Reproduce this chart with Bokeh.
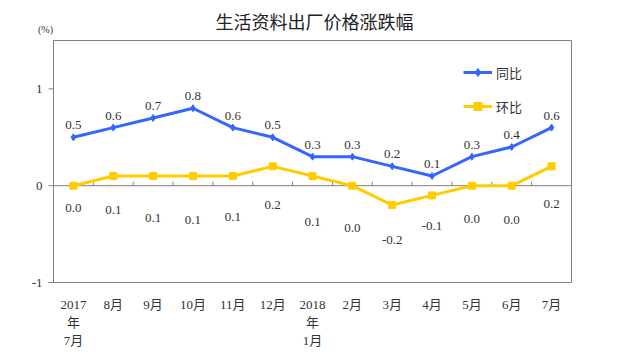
from bokeh.plotting import figure
from bokeh.models import Range1d, FixedTicker, Label, Legend, LegendItem, ColumnDataSource
from bokeh.core.properties import value
from bokeh.embed import file_html
from bokeh.resources import INLINE

categories = ["2017\n年\n7月", "8月", "9月", "10月", "11月", "12月", "2018\n年\n1月",
              "2月", "3月", "4月", "5月", "6月", "7月"]
tongbi = [0.5, 0.6, 0.7, 0.8, 0.6, 0.5, 0.3, 0.3, 0.2, 0.1, 0.3, 0.4, 0.6]
huanbi = [0.0, 0.1, 0.1, 0.1, 0.1, 0.2, 0.1, 0.0, -0.2, -0.1, 0.0, 0.0, 0.2]
huanbi_label_y = [-0.23, -0.25, -0.33, -0.35, -0.32, -0.20, -0.38, -0.44, -0.56, -0.42, -0.34, -0.35, -0.19]
y_ticks = [-1, 0, 1]
y_tick_labels = ["-1", "0", "1"]
y_min, y_max = -1, 1.5

BLUE = "#3366FF"
YELLOW = "#FFCC00"
GRAY = "#808080"
SERIF = "'Liberation Serif', 'Noto Sans CJK SC'"
CJK = "Noto Sans CJK SC"

W, H = 622, 355
# plot box in canvas pixels
BOX_L, BOX_R, BOX_T, BOX_B = 53, 571, 40, 282
n = len(categories)
xs = [i + 0.5 for i in range(n)]

ppx = (BOX_R - BOX_L) / n
ppy = (BOX_B - BOX_T) / (y_max - y_min)
frame_bottom = BOX_B + 8
x_range = Range1d(-BOX_L / ppx, n + (W - BOX_R) / ppx)
y_range = Range1d(y_min - (frame_bottom - BOX_B) / ppy, y_max + BOX_T / ppy)

p = figure(width=W, height=H, output_backend="svg", toolbar_location=None,
           x_range=x_range, y_range=y_range,
           min_border_left=0, min_border_right=0, min_border_top=0,
           min_border_bottom=H - frame_bottom)
p.background_fill_color = "white"
p.border_fill_color = "white"
p.outline_line_color = None
p.xgrid.visible = False
p.ygrid.visible = False
p.yaxis.visible = False

# x axis
p.xaxis.ticker = FixedTicker(ticks=xs)
p.xaxis.major_label_overrides = {x: c for x, c in zip(xs, categories)}
p.xaxis.major_tick_line_color = None
p.xaxis.minor_tick_line_color = None
p.xaxis.axis_line_color = None
p.xaxis.major_label_text_font = SERIF
p.xaxis.major_label_text_font_size = "13px"
p.xaxis.major_label_text_color = "#333333"
p.xaxis.major_label_standoff = 0
p.xaxis.major_label_text_line_height = 1.2

# plot box
p.quad(left=[0], right=[n], bottom=[y_min], top=[y_max], fill_color=None,
       line_color=GRAY, line_width=1)

# y ticks and labels
p.segment(x0=[-5 / ppx] * len(y_ticks), y0=y_ticks, x1=[0] * len(y_ticks), y1=y_ticks,
          line_color=GRAY, line_width=1)
p.text(x=[0] * len(y_ticks), y=y_ticks, text=y_tick_labels, x_offset=-11,
       text_align="right", text_baseline="middle", text_font=value(SERIF),
       text_font_size="13px", text_color="#333333")

# zero line with small ticks at category boundaries
p.segment(x0=[0], y0=[0], x1=[n], y1=[0], line_color=GRAY, line_width=1)
bounds = list(range(1, n))
p.segment(x0=bounds, y0=[0] * len(bounds), x1=bounds, y1=[4 / ppy] * len(bounds),
          line_color=GRAY, line_width=1)

# series
l1 = p.line(xs, tongbi, line_color=BLUE, line_width=3)
m1 = p.scatter(xs, tongbi, marker="diamond", size=7, color=BLUE)
l2 = p.line(xs, huanbi, line_color=YELLOW, line_width=3)
m2 = p.scatter(xs, huanbi, marker="square", size=7, color=YELLOW)

# data labels
src1 = ColumnDataSource(dict(x=xs, y=tongbi, t=["%.1f" % v for v in tongbi]))
p.text(x="x", y="y", text="t", source=src1, y_offset=-12, text_align="center",
       text_baseline="middle", text_font=value(SERIF), text_font_size="13px", text_color="#333333")
src2 = ColumnDataSource(dict(x=xs, y=huanbi_label_y, t=["%.1f" % v for v in huanbi]))
p.text(x="x", y="y", text="t", source=src2, text_align="center",
       text_baseline="middle", text_font=value(SERIF), text_font_size="13px", text_color="#333333")

# title and unit (screen units: from frame left / frame bottom)
p.add_layout(Label(x=(BOX_L + BOX_R) / 2 + 2, y=frame_bottom - 20, x_units="screen", y_units="screen",
                   text="生活资料出厂价格涨跌幅", text_font=CJK, text_font_size="18px",
                   text_color="#222222", text_align="center", text_baseline="middle"))
p.add_layout(Label(x=45, y=frame_bottom - 29, x_units="screen", y_units="screen", text="(%)",
                   text_font=SERIF, text_font_size="10px", text_color="#333333",
                   text_align="center", text_baseline="middle"))

legend = Legend(items=[LegendItem(label="同比", renderers=[l1, m1]),
                       LegendItem(label="环比", renderers=[l2, m2])],
                location=(463, 167 + (frame_bottom - BOX_B - 1)), border_line_color=None,
                background_fill_alpha=0,
                padding=0, margin=0, spacing=14, glyph_width=29, glyph_height=20,
                label_text_font=CJK, label_text_font_size="13px", label_text_color="#333333",
                label_standoff=4)
p.add_layout(legend)

open("out.html", "w").write(file_html(p, INLINE))
